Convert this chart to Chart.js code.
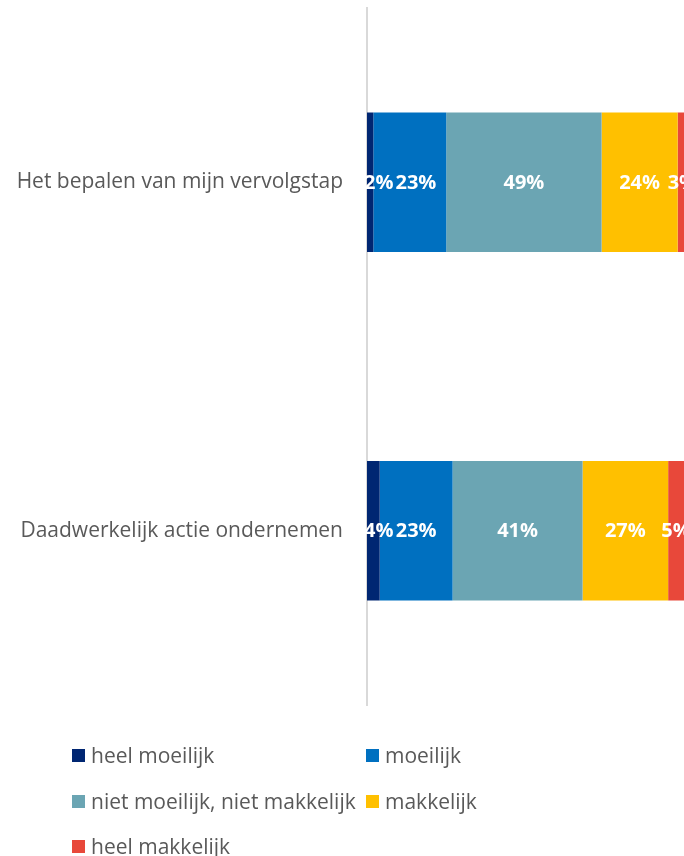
<!DOCTYPE html>
<html><head><meta charset="utf-8">
<script src="https://cdn.jsdelivr.net/npm/chart.js@4/dist/chart.umd.min.js"></script>
<style>
html,body{margin:0;padding:0;background:#fff;overflow:hidden;width:684px;height:856px;}
#wrap{position:absolute;left:0;top:0;width:700px;height:712px;}
#legend{position:absolute;left:0;top:0;width:684px;height:856px;pointer-events:none;font-family:"Open Sans",sans-serif;font-size:21px;color:#595959;}
.li{position:absolute;display:flex;align-items:center;white-space:nowrap;}
.sw{width:13px;height:13px;margin-right:6px;display:inline-block;}
</style></head>
<body>
<div id="wrap"><canvas id="c" width="700" height="712"></canvas></div>
<div id="legend"></div>
<script>
const categories = ["Het bepalen van mijn vervolgstap", "Daadwerkelijk actie ondernemen"];
const seriesNames = ["heel moeilijk", "moeilijk", "niet moeilijk, niet makkelijk", "makkelijk", "heel makkelijk"];
const heelMoeilijk = [2, 4];
const moeilijk = [23, 23];
const neutraal = [49, 41];
const makkelijk = [24, 27];
const heelMakkelijk = [3, 5];
const colors = ["#002672", "#0070C0", "#6BA5B3", "#FFC000", "#E8483A"];

const seriesValues = [heelMoeilijk, moeilijk, neutraal, makkelijk, heelMakkelijk];
const FONT = '"Open Sans", sans-serif';

// Centered segment labels with simple overlap avoidance (like Excel)
const labelPlugin = {
  id: 'segLabels',
  afterDatasetsDraw(chart) {
    const ctx = chart.ctx;
    const area = chart.chartArea;
    ctx.save();
    ctx.font = 'bold 20px ' + FONT;
    ctx.fillStyle = '#ffffff';
    ctx.textAlign = 'left';
    ctx.textBaseline = 'middle';
    const n = chart.data.labels.length;
    for (let j = 0; j < n; j++) {
      let prevRight = -Infinity;
      chart.data.datasets.forEach((ds, i) => {
        const bar = chart.getDatasetMeta(i).data[j];
        const txt = ds.data[j] + '%';
        const w = ctx.measureText(txt).width;
        let left = (bar.x + bar.base) / 2 - w / 2;
        if (left < area.left - 3) left = area.left - 3;
        if (left < prevRight + 2) left = prevRight + 2;
        ctx.fillText(txt, left, bar.y + 1);
        prevRight = left + w;
      });
    }
    ctx.restore();
  }
};

const chart = new Chart(document.getElementById('c'), {
  type: 'bar',
  data: {
    labels: categories,
    datasets: seriesNames.map((n, i) => ({
      label: n,
      data: seriesValues[i],
      backgroundColor: colors[i],
      borderWidth: 0,
      barPercentage: 0.4,
      categoryPercentage: 1.0
    }))
  },
  options: {
    indexAxis: 'y',
    responsive: false,
    animation: false,
    devicePixelRatio: 1,
    layout: { padding: { left: 0, right: 16, top: 8, bottom: 7 } },
    plugins: { legend: { display: false }, tooltip: { enabled: false } },
    scales: {
      x: { stacked: true, min: 0, max: 100, display: false },
      y: {
        stacked: true,
        grid: { display: false },
        border: { display: true, color: '#d9d9d9', width: 2 },
        ticks: { color: '#595959', font: { family: FONT, size: 21 }, padding: 16 },
        afterFit(scale) { scale.width = 367; scale.paddingTop = 0; scale.paddingBottom = 0; }
      }
    }
  },
  plugins: [labelPlugin]
});

// HTML legend built from chart datasets (2-column grid)
const legendEl = document.getElementById('legend');
const colX = [72, 366];
const rowY = [755, 801, 846];
chart.data.datasets.forEach((ds, i) => {
  const d = document.createElement('div');
  d.className = 'li';
  d.style.left = colX[i % 2] + 'px';
  d.style.top = (rowY[Math.floor(i / 2)] - 14) + 'px';
  d.style.height = '28px';
  const sw = document.createElement('span');
  sw.className = 'sw';
  sw.style.background = ds.backgroundColor;
  const t = document.createElement('span');
  t.textContent = ds.label;
  d.appendChild(sw); d.appendChild(t);
  legendEl.appendChild(d);
});
</script>
</body></html>
